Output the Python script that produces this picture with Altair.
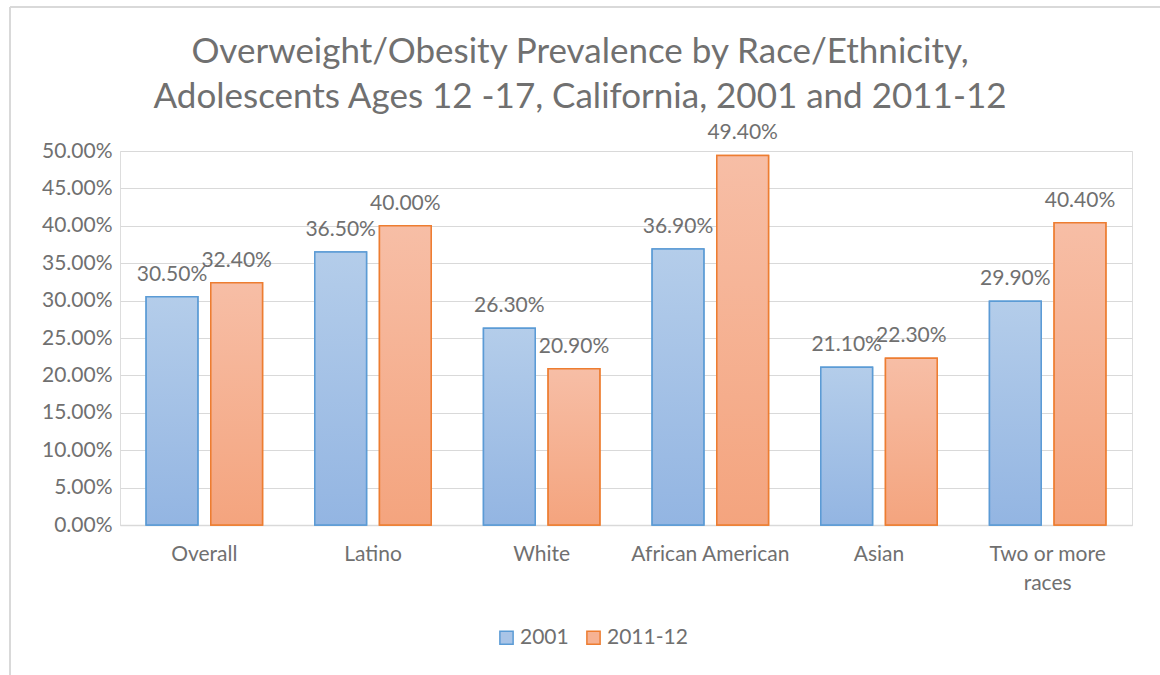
import altair as alt
import pandas as pd

# Overweight/obesity prevalence among adolescents by race/ethnicity
groups = ["Overall", "Latino", "White", "African American", "Asian", "Two or more races"]
years = ["2001", "2011-12"]
rate_2001 = [0.305, 0.365, 0.263, 0.369, 0.211, 0.299]
rate_2011 = [0.324, 0.400, 0.209, 0.494, 0.223, 0.404]
title_lines = ["Overweight/Obesity Prevalence by Race/Ethnicity,",
               "Adolescents Ages 12 -17, California, 2001 and 2011-12"]

rows = []
for g, a, b in zip(groups, rate_2001, rate_2011):
    rows.append({"group": g, "series": "2001", "rate": a})
    rows.append({"group": g, "series": "2011-12", "rate": b})
df = pd.DataFrame(rows)

FONT = "Lato"
GREY = "#707070"
GRID = "#d9d9d9"
FS = 21

fill_solid = ["#a9c4e7", "#f6b293"]
stroke_cols = ["#5b9bd5", "#ed7d31"]

blue_grad = alt.Gradient(
    gradient="linear", x1=0, y1=0, x2=0, y2=1,
    stops=[alt.GradientStop(color="#b4cdea", offset=0),
           alt.GradientStop(color="#93b5e2", offset=1)],
)
orange_grad = alt.Gradient(
    gradient="linear", x1=0, y1=0, x2=0, y2=1,
    stops=[alt.GradientStop(color="#f7bea6", offset=0),
           alt.GradientStop(color="#f4a47e", offset=1)],
)

x_enc = alt.X(
    "group:N", sort=groups, title=None,
    scale=alt.Scale(paddingInner=0.31, paddingOuter=0.155),
    axis=alt.Axis(
        labelAngle=0, labelFont=FONT, labelFontSize=FS, labelColor=GREY,
        labelPadding=18, ticks=False, domainColor=GRID, domainWidth=1.5,
        labelExpr="datum.label == 'Two or more races' ? ['Two or more', 'races'] : datum.label",
        labelLineHeight=29,
    ),
)
xoff_enc = alt.XOffset("series:N", sort=years, scale=alt.Scale(paddingInner=0.2, paddingOuter=0))
y_enc = alt.Y(
    "rate:Q", title=None,
    scale=alt.Scale(domain=[0, 0.5]),
    axis=alt.Axis(
        format=".2%", values=[i * 0.05 for i in range(11)],
        labelFont=FONT, labelFontSize=FS, labelColor=GREY, labelPadding=8,
        ticks=False, domain=False, gridColor=GRID, gridWidth=1.2,
    ),
)

base = alt.Chart(df).encode(x=x_enc, xOffset=xoff_enc, y=y_enc)

legend_opts = dict(
    title=None, orient="none", direction="horizontal",
    legendX=376, legendY=476, symbolType="square",
    symbolSize=175, symbolStrokeWidth=1.5,
    labelFont=FONT, labelFontSize=FS, labelColor=GREY,
    columnPadding=14, labelOffset=3,
)

legend_bars = base.mark_bar(strokeWidth=1.5).encode(
    fill=alt.Fill("series:N", sort=years, scale=alt.Scale(domain=years, range=fill_solid),
                  legend=alt.Legend(**legend_opts)),
    stroke=alt.Stroke("series:N", sort=years, scale=alt.Scale(domain=years, range=stroke_cols),
                      legend=alt.Legend(**legend_opts)),
)

grad_bars = base.mark_bar(strokeWidth=1.5).encode(
    fill=alt.condition(alt.datum.series == "2001", alt.value(blue_grad), alt.value(orange_grad)),
    stroke=alt.condition(alt.datum.series == "2001", alt.value(stroke_cols[0]), alt.value(stroke_cols[1])),
)

labels = base.mark_text(
    baseline="alphabetic", dy=-16, font=FONT, fontSize=FS, color=GREY
).encode(text=alt.Text("rate:Q", format=".2%"))

# Two-line heading above the plot, one text mark per line
title_df = pd.DataFrame({"line": title_lines, "row": [0, 1]})
title_layers = []
for row, ypos in zip([0, 1], [-88, -43]):
    title_layers.append(
        alt.Chart(title_df)
        .transform_filter(alt.datum.row == row)
        .mark_text(font=FONT, fontSize=35, color=GREY, baseline="alphabetic", align="center")
        .encode(text="line:N", x=alt.value(460), y=alt.value(ypos))
    )

# Light frame around the whole figure
frame_left = alt.Chart(df).mark_rule(color=GRID, strokeWidth=2).encode(
    x=alt.value(-110), y=alt.value(-144), y2=alt.value(560)
)
frame_top = alt.Chart(df).mark_rule(color=GRID, strokeWidth=2).encode(
    x=alt.value(-110), x2=alt.value(1100), y=alt.value(-144)
)

chart = (
    alt.layer(frame_left, frame_top, *title_layers, legend_bars, grad_bars, labels)
    .properties(
        width=1012, height=374,
        padding={"left": 120, "top": 151, "right": 28, "bottom": 150},
        autosize=alt.AutoSizeParams(type="none"),
    )
    .configure_view(stroke=None)
    .configure(background="white")
)

chart.save("out.html", embed_options={"renderer": "svg", "actions": False})
